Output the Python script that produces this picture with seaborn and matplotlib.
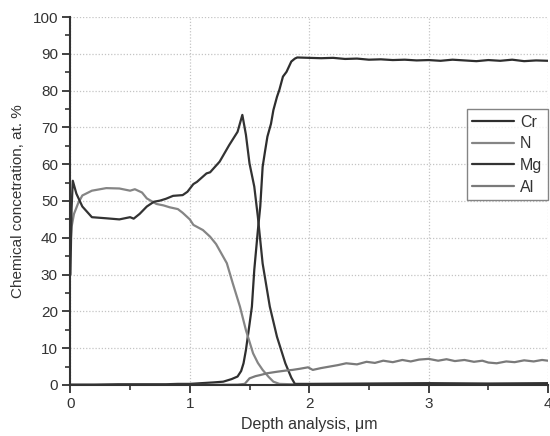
import numpy as np
import pandas as pd
import matplotlib
matplotlib.use("Agg")
import matplotlib.pyplot as plt
import seaborn as sns
from matplotlib.ticker import MultipleLocator

# depth profile values (depth in um, concentration in at. %)
cr_depth = [0.0, 0.2, 0.4, 0.6, 0.8, 0.9, 1.0, 1.1, 1.2, 1.28, 1.35, 1.4, 1.43, 1.45, 1.47,
            1.5, 1.52, 1.54, 1.57, 1.59, 1.61, 1.63, 1.65, 1.68, 1.70, 1.73, 1.75, 1.78,
            1.81, 1.85, 1.88, 1.9, 2.0, 2.1, 2.2, 2.3, 2.4, 2.5, 2.6, 2.7, 2.8, 2.9, 3.0,
            3.1, 3.2, 3.3, 3.4, 3.5, 3.6, 3.7, 3.8, 3.9, 4.0]
cr_conc = [0.1, 0.1, 0.2, 0.2, 0.2, 0.3, 0.3, 0.5, 0.7, 0.9, 1.6, 2.3, 3.8, 5.9, 9.5,
           16.5, 21.3, 31.3, 42.0, 48.5, 59.3, 63.5, 67.5, 71.0, 74.7, 78.3, 80.2, 83.8,
           85.1, 87.9, 88.7, 89.0, 88.9, 88.8, 88.9, 88.6, 88.7, 88.4, 88.5, 88.3, 88.4,
           88.2, 88.3, 88.1, 88.4, 88.2, 88.0, 88.3, 88.1, 88.4, 88.0, 88.2, 88.1]

n_depth = [0.0, 0.01, 0.03, 0.065, 0.1, 0.18, 0.3, 0.41, 0.5, 0.54, 0.6, 0.64, 0.72,
           0.78, 0.83, 0.9, 0.94, 1.0, 1.03, 1.11, 1.17, 1.22, 1.31, 1.36, 1.42, 1.47,
           1.53, 1.57, 1.61, 1.66, 1.70, 1.75, 1.85, 2.0, 2.5, 3.0, 3.5, 4.0]
n_conc = [38.0, 43.0, 46.5, 49.4, 51.5, 52.8, 53.5, 53.4, 52.8, 53.2, 52.3, 50.7, 49.2,
          48.8, 48.3, 47.8, 46.8, 45.0, 43.5, 42.1, 40.3, 38.3, 33.1, 27.6, 21.3, 14.9,
          8.6, 6.0, 4.1, 2.2, 0.9, 0.3, 0.2, 0.2, 0.1, 0.2, 0.1, 0.2]

mg_depth = [0.0, 0.01, 0.02, 0.05, 0.1, 0.18, 0.3, 0.41, 0.47, 0.50, 0.53, 0.58, 0.64,
            0.7, 0.75, 0.8, 0.86, 0.94, 0.98, 1.03, 1.06, 1.14, 1.17, 1.25, 1.33, 1.40,
            1.44, 1.47, 1.50, 1.54, 1.57, 1.61, 1.67, 1.73, 1.80, 1.85, 1.88, 2.0, 2.5,
            3.0, 3.5, 4.0]
mg_conc = [30.0, 48.0, 55.5, 52.0, 48.5, 45.6, 45.3, 45.0, 45.4, 45.6, 45.2, 46.5, 48.5,
           49.8, 50.1, 50.6, 51.4, 51.6, 52.5, 54.6, 55.2, 57.5, 57.8, 60.7, 65.2, 68.8,
           73.4, 68.0, 60.2, 53.9, 45.7, 33.0, 21.3, 13.1, 5.9, 2.0, 0.3, 0.3, 0.4, 0.5,
           0.4, 0.5]

al_depth = [0.0, 0.5, 1.0, 1.4, 1.46, 1.50, 1.55, 1.59, 1.65, 1.73, 1.8, 1.86, 1.92,
            1.99, 2.03, 2.1, 2.17, 2.24, 2.31, 2.4, 2.48, 2.55, 2.62, 2.7, 2.78, 2.85,
            2.92, 3.0, 3.08, 3.15, 3.22, 3.3, 3.38, 3.45, 3.5, 3.57, 3.65, 3.72, 3.8,
            3.88, 3.95, 4.0]
al_conc = [0.0, 0.0, 0.0, 0.1, 0.3, 1.8, 2.4, 2.7, 3.2, 3.6, 3.9, 4.1, 4.4, 4.8, 4.1,
           4.6, 5.0, 5.4, 5.9, 5.6, 6.3, 6.0, 6.6, 6.2, 6.8, 6.4, 6.9, 7.1, 6.6, 7.0,
           6.5, 6.8, 6.3, 6.6, 6.1, 5.9, 6.4, 6.2, 6.7, 6.4, 6.8, 6.6]

elements = ["Cr", "N", "Mg", "Al"]
line_colors = ["#2e2e2e", "#858585", "#333333", "#7a7a7a"]

frames = []
for name, d, c in [("Cr", cr_depth, cr_conc), ("N", n_depth, n_conc),
                   ("Mg", mg_depth, mg_conc), ("Al", al_depth, al_conc)]:
    frames.append(pd.DataFrame({"depth": d, "conc": c, "element": name}))
df = pd.concat(frames, ignore_index=True)

sns.set_theme(style="ticks")
plt.rcParams['font.family'] = ['Liberation Sans', 'DejaVu Sans']

fig = plt.figure(figsize=(5.5, 4.36), dpi=100)
ax = fig.add_axes([0.128, 0.117, 0.8684, 0.844])

sns.lineplot(data=df, x="depth", y="conc", hue="element", hue_order=elements,
             palette=line_colors, linewidth=1.6, sort=False, estimator=None, ax=ax)

ax.set_xlim(0, 4)
ax.set_ylim(0, 100)
ax.xaxis.set_major_locator(MultipleLocator(1))
ax.xaxis.set_minor_locator(MultipleLocator(0.5))
ax.yaxis.set_major_locator(MultipleLocator(10))
ax.yaxis.set_minor_locator(MultipleLocator(5))

ax.grid(True, which="major", linestyle=(0, (1, 1.5)), color="#c4c4c4", linewidth=0.9)
for s in ["top", "right"]:
    ax.spines[s].set_visible(False)
for s in ["left", "bottom"]:
    ax.spines[s].set_color("#333333")
    ax.spines[s].set_linewidth(1.5)

ax.tick_params(which="major", direction="out", length=6, width=1.3, color="#333333",
               labelsize=11, labelcolor="#333333", pad=3)
ax.tick_params(which="minor", direction="out", length=3.5, width=1.2, color="#333333")

ax.set_xlabel("Depth analysis, μm", fontsize=11.5, color="#333333", labelpad=4)
ax.set_ylabel("Chemical concetration, at. %", fontsize=11, color="#333333", labelpad=5)

leg = ax.legend(loc="upper right", bbox_to_anchor=(1.0, 0.75), borderaxespad=0,
                fontsize=11.5, frameon=True, fancybox=False, handlelength=2.6,
                handletextpad=0.4, labelspacing=0.42, borderpad=0.35)
leg.get_frame().set_edgecolor("#666666")
leg.get_frame().set_linewidth(1.0)
for t in leg.get_texts():
    t.set_color("#333333")

fig.savefig("out.png", dpi=100)
